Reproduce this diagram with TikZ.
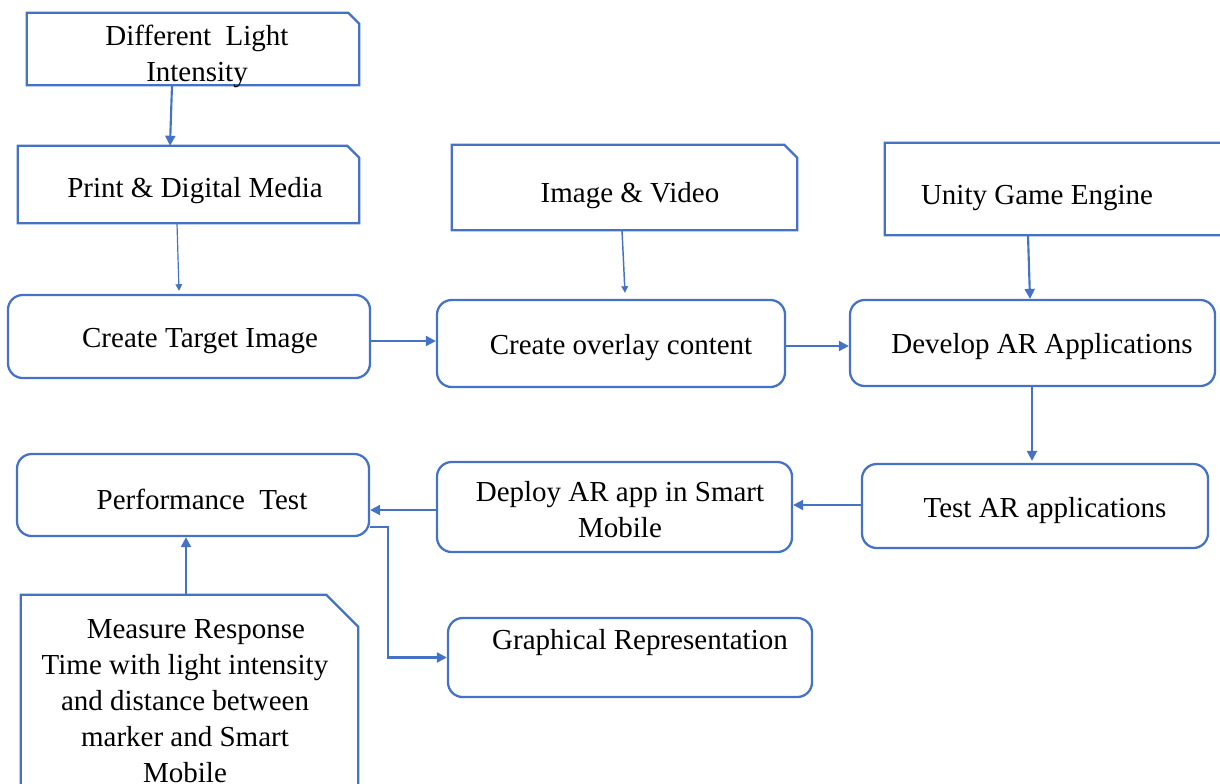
\documentclass[tikz,border=0pt]{standalone}
\usepackage{fontspec}
\setmainfont{Liberation Serif}
\usetikzlibrary{arrows.meta,calc}
\definecolor{obl}{HTML}{4472C4}
\begin{document}
\begin{tikzpicture}[x=0.75pt,y=-0.75pt,
  rbox/.style={draw=obl,line width=1.7pt,rounded corners=11pt,inner sep=0pt},
  cbox/.style={inner sep=0pt},
  lbl/.style={inner sep=0pt,align=center,font=\fontsize{21.75pt}{27pt}\selectfont},
  arr/.style={draw=obl,line width=1.6pt,-{Triangle[length=7.5pt,width=7.5pt]}},
  tarr/.style={draw=obl,line width=0.9pt,-{Triangle[length=5pt,width=5pt]}},
  cham/.style={draw=obl,line width=1.7pt}]
\useasboundingbox (0,0) rectangle (1220,783);
% chamfered boxes
\node[cbox,minimum width=249pt,minimum height=54pt] (light) at (193,49) {};
\node[cbox,minimum width=255.75pt,minimum height=57.75pt] (print) at (188.5,184.5) {};
\node[cbox,minimum width=258.75pt,minimum height=63.75pt] (image) at (624.5,187.5) {};
\node[cbox,minimum width=260.25pt,minimum height=69pt] (unity) at (1058.5,189) {};
\node[cbox,minimum width=252.75pt,minimum height=153.75pt] (measure) at (189.5,697.5) {};
\foreach \n/\c in {light/8.25pt,print/9pt,image/9.75pt,unity/9pt,measure/24pt}{
  \draw[cham] (\n.south west) -- (\n.north west) -- ([xshift=-\c]\n.north east)
     -- ([yshift=-\c]\n.north east) -- (\n.south east) -- cycle;
}
% rounded boxes
\node[rbox,minimum width=271.5pt,minimum height=62.25pt] (ct) at (189,336.5) {};
\node[rbox,minimum width=261pt,minimum height=65.25pt] (co) at (611,343.5) {};
\node[rbox,minimum width=273.75pt,minimum height=64.5pt] (dev) at (1032.5,343) {};
\node[rbox,minimum width=264pt,minimum height=61.5pt] (perf) at (193,495) {};
\node[rbox,minimum width=266.25pt,minimum height=67.5pt] (deploy) at (614.5,507) {};
\node[rbox,minimum width=259.5pt,minimum height=63pt] (test) at (1035,506) {};
\node[rbox,minimum width=273pt,minimum height=59.25pt] (graph) at (630,657.5) {};
% labels
\node[lbl] (lightT) at (197,56) {Different\ \ Light\\Intensity};
\node[lbl] (printT) at (195,191) {Print \& Digital Media};
\node[lbl] (imageT) at (630,196) {Image \& Video};
\node[lbl] (unityT) at (1037,198) {Unity Game Engine};
\node[lbl] (ctT) at (200,341) {Create Target Image};
\node[lbl] (coT) at (621,348) {Create overlay content};
\node[lbl] (devT) at (1042,347) {Develop AR Applications};
\node[lbl] (perfT) at (202,499) {Performance\ \ Test};
\node[lbl] (deployT) at (620,510) {Deploy AR app in Smart\\Mobile};
\node[lbl] (testT) at (1045,511) {Test AR applications};
\node[lbl] (graphT) at (640,643) {Graphical Representation};
\node[lbl] (measureT) at (185,701) {\ \ \ Measure Response\\Time with light intensity\\and distance between\\marker and Smart\\Mobile};
% connectors
\draw[arr] ($(light.south)+(-21,0)$) -- ($(print.north)+(-18.5,0)$);
\draw[tarr] ($(print.south)+(-11.5,0)$) -- ($(ct.north)+(-10,-3)$);
\draw[tarr,line width=1.1pt] ($(image.south)+(-2.5,0)$) -- ($(co.north)+(14,-6)$);
\draw[arr] ($(unity.south)+(-30.5,0)$) -- ($(dev.north)+(-2.5,0)$);
\draw[arr] ($(ct.east)+(0,4.5)$) -- ($(co.west)+(0,-2.5)$);
\draw[arr] ($(co.east)+(0,2.5)$) -- ($(dev.west)+(0,3)$);
\draw[arr] ($(dev.south)+(-0.5,0)$) -- ($(test.north)+(-3,-2)$);
\draw[arr] ($(test.west)+(0,-1)$) -- ($(deploy.east)+(0,-2)$);
\draw[arr] ($(deploy.west)+(0,3)$) -- ($(perf.east)+(0,15)$);
\draw[arr] ($(measure.north)+(-3.5,0)$) -- ($(perf.south)+(-7,0)$);
\draw[arr] ($(perf.east)+(0,32)$) -- ++(18,0) |- (graph.west);
\end{tikzpicture}
\end{document}
